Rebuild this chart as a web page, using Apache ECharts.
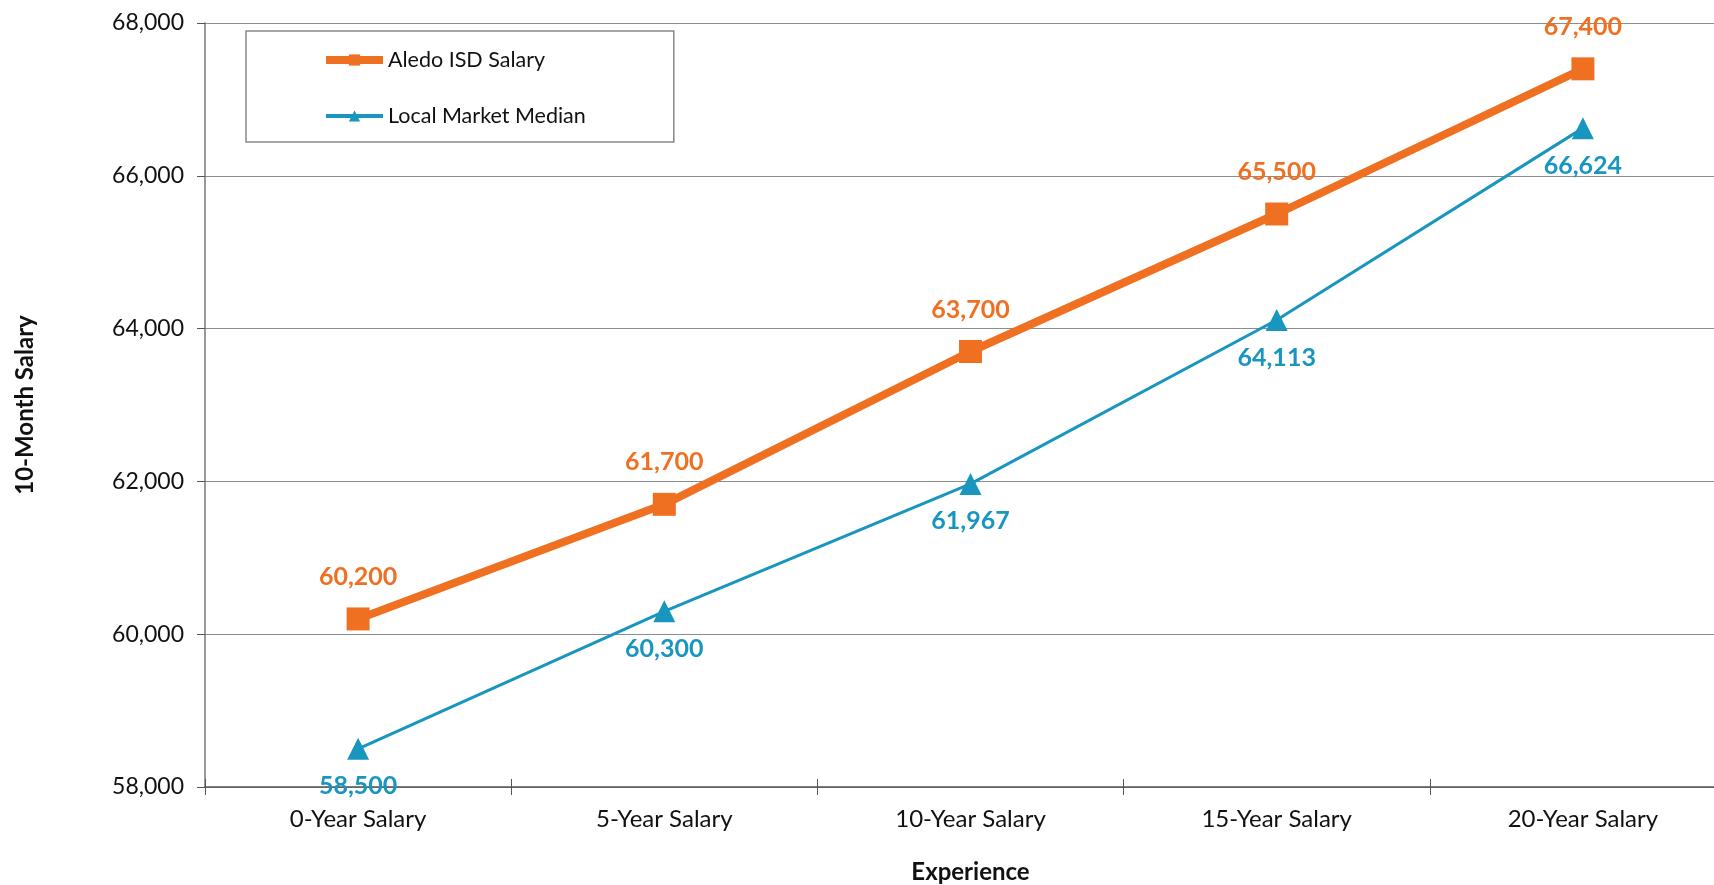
<!DOCTYPE html>
<html>
<head>
<meta charset="utf-8">
<script src="https://cdn.jsdelivr.net/npm/echarts@6/dist/echarts.min.js"></script>
<style>
  html, body { margin: 0; padding: 0; background: #fff; overflow: hidden; }
  #chart { width: 1736px; height: 885px; }
</style>
</head>
<body>
<div id="chart"></div>
<script>
const categories = ['0-Year Salary', '5-Year Salary', '10-Year Salary', '15-Year Salary', '20-Year Salary']
const aledoSalary = [60200, 61700, 63700, 65500, 67400]
const marketMedian = [58500, 60300, 61967, 64113, 66624]

const ORANGE = '#F07021'
const BLUE = '#1896BE'
const FONT = 'Lato, "Noto Sans", sans-serif'

const fmt = v => v.toLocaleString('en-US')

const chart = echarts.init(document.getElementById('chart'))

// plot area runs a little past the right edge of the window, as in the original
chart.setOption({
  animation: false,
  textStyle: { fontFamily: FONT },
  grid: { left: 205, right: 0, top: 23, bottom: 98, outerBoundsMode: 'none', containLabel: false },
  legend: {
    orient: 'vertical',
    left: 246,
    top: 31,
    padding: [18, 88, 15, 76],
    itemGap: 34,
    itemWidth: 57,
    itemHeight: 14,
    borderColor: '#888',
    borderWidth: 1.5,
    textStyle: { fontSize: 21.5, color: '#111', fontFamily: FONT },
    data: [
      { name: 'Aledo ISD Salary', lineStyle: { width: 8 } },
      { name: 'Local Market Median', lineStyle: { width: 4 } }
    ]
  },
  xAxis: [
    {
      type: 'category',
      data: categories,
      boundaryGap: true,
      name: 'Experience',
      nameLocation: 'middle',
      nameGap: 73,
      nameTextStyle: { fontSize: 24, fontWeight: 'bold', color: '#111', fontFamily: FONT },
      axisLine: { lineStyle: { color: '#555', width: 1.5 } },
      axisTick: { show: true, length: 8, lineStyle: { color: '#555' } },
      axisLabel: { fontSize: 24, color: '#111', margin: 20, fontFamily: FONT },
      splitLine: { show: false }
    },
    {
      type: 'category',
      data: categories,
      position: 'bottom',
      boundaryGap: true,
      axisLine: { show: false },
      axisTick: { show: true, inside: true, length: 8, lineStyle: { color: '#555' } },
      axisLabel: { show: false }
    }
  ],
  yAxis: {
    type: 'value',
    min: 58000,
    max: 68000,
    interval: 2000,
    name: '10-Month Salary',
    nameLocation: 'middle',
    nameGap: 168,
    nameTextStyle: { fontSize: 24, fontWeight: 'bold', color: '#111', fontFamily: FONT },
    axisLine: { show: true, lineStyle: { color: '#777', width: 1.5 } },
    axisTick: { show: true, length: 8, lineStyle: { color: '#555' } },
    axisLabel: { fontSize: 23, color: '#111', margin: 21, formatter: fmt, fontFamily: FONT },
    splitLine: { show: true, lineStyle: { color: '#8c8c8c', width: 1.2 } }
  },
  series: [
    {
      name: 'Aledo ISD Salary',
      type: 'line',
      data: aledoSalary,
      symbol: 'rect',
      symbolSize: 23,
      lineStyle: { color: ORANGE, width: 8 },
      itemStyle: { color: ORANGE },
      label: {
        show: true,
        position: 'top',
        distance: 18,
        formatter: p => fmt(p.value),
        color: ORANGE,
        fontSize: 25,
        fontWeight: 'bold',
        fontFamily: FONT
      },
      z: 3
    },
    {
      name: 'Local Market Median',
      type: 'line',
      data: marketMedian,
      symbol: 'triangle',
      symbolSize: 22,
      lineStyle: { color: BLUE, width: 3 },
      itemStyle: { color: BLUE },
      label: {
        show: true,
        position: 'bottom',
        distance: 14,
        formatter: p => fmt(p.value),
        color: BLUE,
        fontSize: 25,
        fontWeight: 'bold',
        fontFamily: FONT
      },
      z: 2
    }
  ]
})
</script>
</body>
</html>
